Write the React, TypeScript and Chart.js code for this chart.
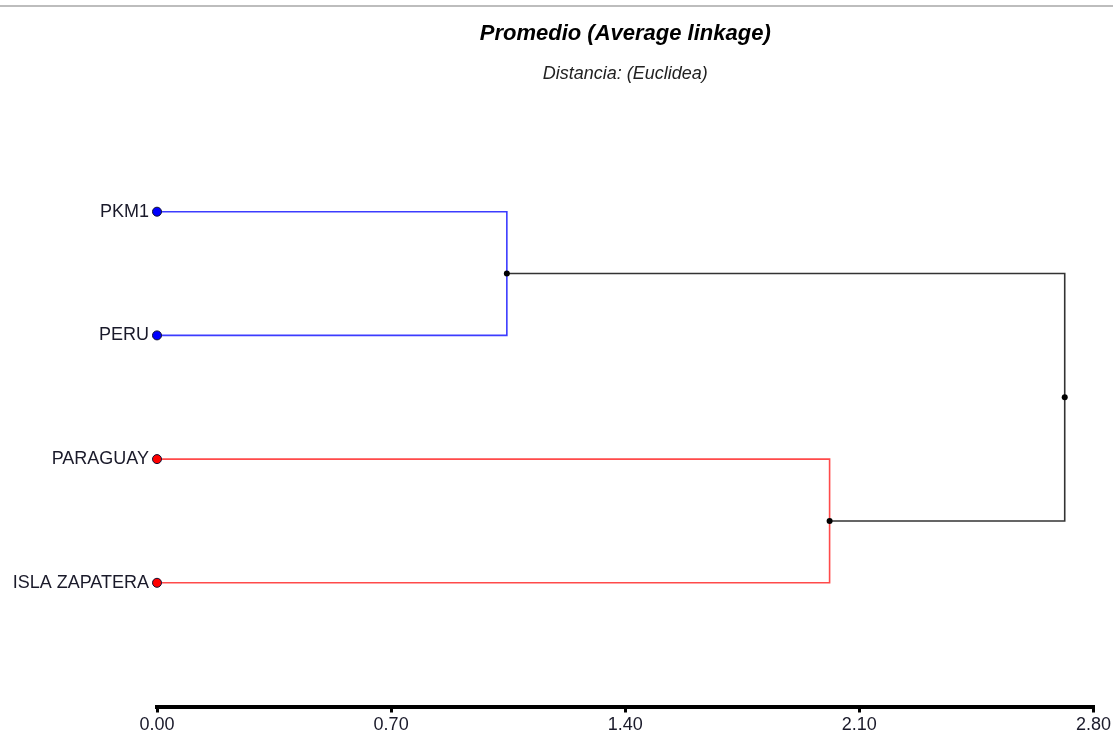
import React, { useEffect, useRef } from "react";
import { Chart, registerables } from "chart.js";

Chart.register(...registerables);

// ---- data ----
const leafNames = ["PKM1", "PERU", "PARAGUAY", "ISLA ZAPATERA"];
const leafPositions = [1, 2, 3, 4];
const leafColors = ["#0000ff", "#0000ff", "#ff0000", "#ff0000"];
// merges: cluster A = PKM1+PERU, cluster B = PARAGUAY+ISLA ZAPATERA, root = A+B
const mergeNames = ["A", "B", "root"];
const mergeHeights = [1.046, 2.011, 2.714];
const tickValues = [0, 0.7, 1.4, 2.1, 2.8];
const titleText = "Promedio (Average linkage)";
const subtitleText = "Distancia: (Euclidea)";

const FONT = "'Liberation Sans', Arial, sans-serif";

const topLinePlugin = {
  id: "topLine",
  beforeDraw(chart: any) {
    const ctx = chart.ctx;
    ctx.save();
    ctx.fillStyle = "#ffffff";
    ctx.fillRect(0, 0, chart.width, chart.height);
    ctx.fillStyle = "#bdbdbd";
    ctx.fillRect(0, 5, chart.width, 2);
    ctx.restore();
  },
};

export default function App() {
  const ref = useRef<HTMLCanvasElement | null>(null);

  useEffect(() => {
    if (!ref.current) return;
    const [hA, hB, hRoot] = mergeHeights;
    const [p0, p1, p2, p3] = leafPositions;
    const midA = (p0 + p1) / 2;
    const midB = (p2 + p3) / 2;
    const midRoot = (midA + midB) / 2;

    const bracketA = [
      { x: 0, y: p0 },
      { x: hA, y: p0 },
      { x: hA, y: p1 },
      { x: 0, y: p1 },
    ];
    const bracketB = [
      { x: 0, y: p2 },
      { x: hB, y: p2 },
      { x: hB, y: p3 },
      { x: 0, y: p3 },
    ];
    const bracketRoot = [
      { x: hA, y: midA },
      { x: hRoot, y: midA },
      { x: hRoot, y: midB },
      { x: hB, y: midB },
    ];
    const nodePts = [
      { x: hA, y: midA },
      { x: hB, y: midB },
      { x: hRoot, y: midRoot },
    ];
    const leafPts = leafPositions.map((p) => ({ x: 0, y: p }));

    const chart = new Chart(ref.current, {
      type: "scatter",
      data: {
        datasets: [
          {
            label: "leaves",
            data: leafPts,
            showLine: false,
            pointRadius: 4.5,
            pointBackgroundColor: leafColors,
            pointBorderColor: "#111133",
            pointBorderWidth: 1,
            order: 0,
            clip: false,
          } as any,
          {
            label: "nodes " + mergeNames.join(","),
            data: nodePts,
            showLine: false,
            pointRadius: 3,
            pointBackgroundColor: "#000000",
            pointBorderColor: "#000000",
            pointBorderWidth: 0,
            order: 0,
            clip: false,
          } as any,
          {
            label: "A",
            data: bracketA,
            showLine: true,
            borderColor: "#3c3cff",
            borderWidth: 1.6,
            pointRadius: 0,
            tension: 0,
            order: 1,
            clip: false,
          } as any,
          {
            label: "B",
            data: bracketB,
            showLine: true,
            borderColor: "#ff4a4a",
            borderWidth: 1.6,
            pointRadius: 0,
            tension: 0,
            order: 1,
            clip: false,
          } as any,
          {
            label: "root",
            data: bracketRoot,
            showLine: true,
            borderColor: "#333333",
            borderWidth: 1.6,
            pointRadius: 0,
            tension: 0,
            order: 1,
            clip: false,
          } as any,
        ],
      },
      options: {
        responsive: false,
        animation: false,
        events: [],
        layout: { padding: { top: 0, left: 0, right: 19, bottom: 0 } },
        plugins: {
          legend: { display: false },
          tooltip: { enabled: false },
          title: {
            display: true,
            text: titleText,
            fullSize: false,
            color: "#000000",
            font: { family: FONT, size: 22, weight: "bold", style: "italic" },
            padding: { top: 20.8, bottom: 0 },
          },
          subtitle: {
            display: true,
            text: subtitleText,
            fullSize: false,
            color: "#222222",
            font: { family: FONT, size: 18, style: "italic" },
            padding: { top: 16, bottom: 3.2 },
          },
        },
        scales: {
          x: {
            type: "linear",
            position: "bottom",
            min: tickValues[0],
            max: tickValues[tickValues.length - 1],
            afterBuildTicks: (scale: any) => {
              scale.ticks = tickValues.map((v) => ({ value: v }));
            },
            afterFit: (scale: any) => {
              scale.height = 39.5;
            },
            ticks: {
              autoSkip: false,
              maxRotation: 0,
              padding: 2,
              color: "#1a1a2a",
              font: { family: FONT, size: 18 },
              callback: (v: any) => Number(v).toFixed(2),
            },
            grid: {
              display: true,
              drawOnChartArea: false,
              drawTicks: true,
              tickLength: 6,
              lineWidth: 3,
              color: "#000000",
            },
            border: { display: true, width: 4, color: "#000000" },
          },
          y: {
            type: "linear",
            reverse: true,
            min: 0,
            max: 5,
            afterBuildTicks: (scale: any) => {
              scale.ticks = leafPositions.map((v) => ({ value: v }));
            },
            afterFit: (scale: any) => {
              scale.width = 157;
            },
            ticks: {
              autoSkip: false,
              padding: 8,
              color: "#1a1a2a",
              font: { family: FONT, size: 18 },
              callback: (v: any) => {
                const i = leafPositions.indexOf(Number(v));
                return i >= 0 ? leafNames[i] : "";
              },
            },
            grid: { display: false, drawTicks: false },
            border: { display: false },
          },
        },
      } as any,
      plugins: [topLinePlugin],
    });
    return () => chart.destroy();
  }, []);

  return (
    <div
      style={{
        position: "fixed",
        left: 0,
        top: 0,
        width: 1113,
        height: 746,
        background: "#ffffff",
      }}
    >
      <canvas ref={ref} width={1113} height={746} style={{ display: "block" }} />
    </div>
  );
}
